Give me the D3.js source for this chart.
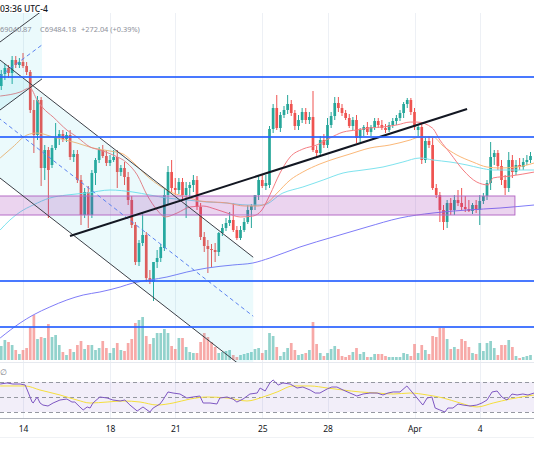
<!DOCTYPE html>
<html><head><meta charset="utf-8">
<script src="https://cdn.jsdelivr.net/npm/d3@7"></script>
<style>
html,body{margin:0;padding:0;background:#fff;overflow:hidden}
svg{display:block}
text{font-family:"Noto Sans",Roboto,sans-serif}
</style></head><body>
<svg id="chart" width="534" height="462"></svg>
<script>
// ---------- DATA (4h candles, BTCUSD) ----------
const opens=[72032,72668,72986,72721,73410,73145,73304,73092,72774,70760,
69435,71290,67686,68640,67845,68746,69329,69488,69223,69435,
68269,68428,67050,65195,66414,65195,67421,68110,68640,68322,
67951,68110,68269,67474,67686,67209,65990,64665,62704,63711,
64135,61856,61644,62704,62916,63446,66255,67474,66626,66520,
66944,66255,66626,66785,67050,65619,64029,63552,63393,63340,
63234,64241,64506,64771,64930,64400,63976,64400,64824,65460,
65672,66255,67050,66732,66785,69753,70866,69806,70495,70760,
71078,70601,69912,70230,70654,70230,70389,68640,68481,69170,
68905,69965,70442,71131,70866,70601,70336,69912,70230,69276,
69700,69859,69594,69859,70177,69965,69806,69700,69965,70177,
70336,70601,71078,71290,70654,69700,69859,68110,69117,68905,
66626,66255,65460,64824,65831,65460,65990,65831,65619,65513,
65407,65725,65460,65937,66202,66891,68269,68481,67792,67050,
66626,68110,67474,67845,67739,68004,68110];
const highs=[72880,73198,73145,73622,73622,73516,73781,73304,72880,71290,
71502,71449,68905,68799,68905,70071,69700,69700,69594,69700,
68640,68640,67315,66626,66732,67580,68216,68799,68905,68640,
68375,68640,68640,67845,68004,67474,66202,64824,63870,65301,
64294,62280,62704,63340,63658,66626,67792,68110,67156,67156,
67156,66944,66944,67315,67262,65831,64294,63870,63658,63711,
64294,64718,65036,65354,65831,64612,64612,65036,65725,65778,
66255,67315,67368,67315,69912,71078,71555,70654,70972,71555,
71290,70760,70495,70866,70866,70654,71767,68852,69382,69488,
70336,70654,71449,71449,71078,70760,70548,70389,70495,69806,
69965,70124,69965,70336,70336,70230,70018,70124,70336,70495,
70760,71184,71396,71396,70866,69965,70018,69276,69382,69276,
66838,66414,65725,65990,66096,66255,66520,66626,66202,65990,
65831,65990,66255,66361,67050,69064,68640,68640,68110,67315,
68534,68375,68110,68216,68216,68375,68534];
const lows=[71820,72350,72456,72138,72986,72986,72986,72615,70601,68481,
69170,66732,67050,65036,67686,68640,68905,69064,69064,68110,
68004,66891,64665,65036,64506,65036,66785,67951,68216,67792,
67792,68004,66626,67262,66785,65725,64506,62545,62492,63552,
61644,61538,60637,62386,62704,63287,65725,66414,66255,66308,
65990,65036,66096,66414,65460,63870,63234,62121,62439,62704,
63022,64082,64347,64612,64294,63870,63870,64294,64718,64506,
65460,65990,66626,66520,66626,69541,69700,69594,70336,70548,
70442,69700,69700,70071,70018,70018,68534,68216,68322,68746,
68746,69806,70230,70654,70442,70230,69806,69700,69011,69064,
69382,69435,69382,69700,69806,69700,69541,69594,69806,69965,
70177,70336,70866,70495,69700,69382,67898,67951,68746,66520,
66096,64824,64400,64506,65195,65195,65672,65460,65354,65354,
65248,65301,64665,65778,65990,66520,67845,67580,66785,66255,
66414,67156,67315,67580,67580,67845,67951];
const closes=[72668,72986,72721,73410,73145,73304,73092,72774,70760,69435,
71290,67686,68640,67580,68746,69329,69488,69223,69435,68269,
68428,67050,65195,66414,65195,67421,68110,68640,68322,67951,
68110,68269,67474,67686,67209,65990,64665,62704,63711,64135,
61856,61644,62704,62916,63499,66255,67474,66626,66520,66944,
66255,66626,66785,67050,65619,64029,63552,63393,63340,63234,
64241,64506,64771,64930,64400,63976,64400,64824,65460,65672,
66255,67050,66732,66891,69753,70866,69806,70495,70760,71078,
70601,69912,70230,70654,70230,70389,68640,68481,69170,68905,
69965,70442,71131,70866,70601,70336,69912,70230,69276,69700,
69859,69594,69859,70177,69965,69806,69700,69965,70177,70336,
70601,71078,71290,70654,69859,69859,68110,69117,68905,66626,
66255,65460,64824,65831,65460,65990,65831,65619,65513,65407,
65725,65460,65937,66202,66891,68269,68481,67792,67050,66626,
68110,67474,67845,67739,68004,68110,68322];
const volumes=[1400,2000,1800,1500,1000,600,1000,1200,3300,4500,
2100,2300,2200,3600,2300,2500,1500,800,500,1100,
800,1500,1900,1100,1500,1500,1000,1200,1900,1200,
700,1200,1700,1000,900,1700,2100,3700,4000,4300,
2400,1600,2200,2700,2700,3100,2700,1400,1100,2200,
2200,1300,800,700,700,1800,2700,2300,1800,1300,
700,800,900,1000,500,300,500,600,700,800,
1100,1200,700,1000,2700,2400,1300,400,800,1200,
1700,1000,500,600,700,1000,3800,1600,700,400,
700,1100,1400,1100,400,300,500,800,1200,600,
800,300,300,600,600,600,400,300,300,300,
300,700,600,400,1600,700,1500,1000,600,2400,
2300,3200,3200,2100,1100,1300,1100,2100,1900,1300,
700,600,1700,900,1700,1900,1200,500,1500,1500,
2000,1300,400,200,300,400,500];

// moving averages: [candle index, price]
const maFast=[[-0.3,71500],[5.2,71710],[7.9,71930],[9.9,71290],[11.5,70870],[14.3,70390],[18.1,69700],[20.9,69330],[24.5,68800],[27.2,68640],[30.8,68380],[34.7,67950],[37.5,67320],[40.2,66260],[43,65460],[45.2,65090],[48.5,65300],[52.1,65620],[55.7,65670],[59,65510],[62.3,65300],[65.9,65090],[69.4,65140],[71.9,65460],[74.1,66260],[76.9,67420],[79.7,68270],[83.2,68690],[87.1,68910],[90.7,69280],[94.3,69590],[98.1,69700],[101.7,69810],[105.3,69860],[109.2,69970],[112.8,70120],[114.7,70120],[118.9,69810],[121,69170],[123.8,68480],[127.4,67580],[131.2,66940],[134.3,66790],[135.7,67160],[140.4,67260],[147,67470]];
const maMid=[[-0.3,68216],[3.2,68799],[7.1,69435],[9.9,69541],[14.3,69329],[20.9,69011],[25.3,68746],[30,68587],[33.6,68428],[36.3,68004],[40.2,67262],[43.8,66732],[47.4,66361],[51.2,66149],[54.8,65937],[62.3,65831],[67.2,65672],[70.6,65672],[73.3,65831],[76.1,66361],[79.7,67050],[83.2,67474],[87.9,67898],[92.6,68216],[96.2,68428],[101.7,68746],[107.2,68905],[112.8,69170],[115.5,69329],[119.1,69329],[121.9,68852],[125.7,68375],[130.1,68004],[134,67739],[137.6,67686],[142.3,67739],[147,67951]];
const maSlow=[[-0.3,64400],[2.4,64930],[5.2,65354],[8.8,65725],[13.4,66096],[18.1,66255],[23.7,66361],[30,66520],[36.3,66414],[41,66255],[45.7,66096],[51.2,65990],[56.8,65884],[62.3,65831],[67.8,65725],[72.2,65725],[77.7,66361],[83.2,66679],[88.8,67050],[94.3,67421],[99.8,67580],[105.3,67739],[110.8,68004],[115.5,68216],[119.1,68110],[123.8,68004],[128.5,67845],[132.1,67686],[135.7,67580],[140.4,67580],[147,67580]];
const ma200=[[-0.3,58676],[5.2,59471],[8.8,59895],[13.4,60319],[18.1,60690],[22.6,60955],[27.2,61114],[32.8,61379],[36.3,61591],[41,61750],[45.7,61909],[51.2,62174],[56.8,62386],[63.9,62545],[69.4,62651],[74.1,62916],[82.4,63499],[91.5,64029],[100.9,64559],[110,65036],[119.1,65301],[128.5,65460],[137.6,65566],[147,65725]];

// RSI and its MA: [candle index, value]
const rsi=[[-0.3,67.3],[1.6,68.7],[3.2,67.3],[5.2,67.3],[6.6,66],[7.4,56.7],[8.5,43.3],[8.8,42],[9.9,50],[10.7,42],[11.5,39.3],[12.9,38],[14.3,42],[16.2,46],[18.1,47.3],[19.5,43.3],[20.3,43.3],[21.7,36.7],[22.6,32.7],[23.7,36.7],[24.5,35.3],[25.3,42],[27.2,50],[29.2,48.7],[30.8,46],[32.8,44.7],[34.1,46],[35.5,39.3],[37.5,31.3],[39.1,36.7],[41,30],[41.9,35.3],[43.8,40.7],[44.6,46],[46,56.7],[47.4,55.3],[49.3,54],[51.2,48.7],[52.9,50],[54.8,51.3],[55.7,42],[57.6,42],[59.5,40.7],[60.3,48.7],[62.3,50],[63.9,47.3],[65,43.3],[66.7,47.3],[68.6,54],[70.6,55.3],[71.4,62],[72.8,58],[74.1,68.7],[75,72.7],[76.4,66],[77.7,68.7],[79.7,67.3],[81.6,62],[83.2,63.3],[85.2,59.3],[86.6,55.3],[87.9,55.3],[89.9,60.7],[91.2,63.3],[92.6,63.3],[94.3,59.3],[96.2,55.3],[98.1,51.3],[99.8,54],[101.7,55.3],[103.7,55.3],[105.3,52.7],[106.7,55.3],[108.1,56.7],[110,56.7],[111.9,64.7],[113.3,56.7],[114.7,48.7],[116.3,39.3],[117.5,48.7],[118.8,50],[119.7,35.3],[121,32.7],[122.4,30],[123.2,35.3],[124.6,35.3],[126,40.7],[127.4,39.3],[129.3,38],[131.2,39.3],[132.6,42],[134,46],[135.4,56.7],[136.8,58],[138.1,50],[139.5,46],[140.9,54],[142.3,52.7],[143.9,54],[145.3,52.7],[147,55.3]];
const rsiMa=[[-0.3,64.7],[6.6,64.7],[10.7,59.3],[16.2,52.7],[20.9,46],[24.5,42],[29.2,43.3],[33.6,44.7],[38.3,43.3],[43,39.3],[47.4,42],[52.1,47.3],[56.8,50],[62.3,48.7],[67.8,44.7],[72.2,50],[76.1,56.7],[80.5,64.7],[85.2,64.7],[89.9,62],[94.3,59.3],[99,56.7],[103.7,55.3],[108.1,54],[112.8,55.3],[117.5,52.7],[121.9,48.7],[126.6,42],[131.2,36.7],[135.7,42],[140.4,47.3],[147,52.7]];
const rsiLevels=[70,50,30];

// drawings: [candle index, price]
const hLevels=[72509,69329,61697,59259];
const zone=[[-10,66202],[141.7,65195]];
const trendLine=[[18.97,64082],[128.5,70813]];
const descUpper=[[-10,74852],[69.5,62958]];
const descLower=[[-10,68600],[69.5,56704]];
const descMid=[[-10,71727],[69.5,59831]];
const ascUpper=[[-10,72991],[11.24,76012]];
const ascLower=[[-10,69387],[11.24,72408]];
const ascMid=[[-10,71189],[11.24,74210]];
const ascTop=[[-10,80000],[11.24,80000]];

const tickDays=[[2024,2,14],[2024,2,18],[2024,2,21],[2024,2,25],[2024,2,28],[2024,3,1],[2024,3,4]];
const headerTime="03:36 UTC-4";
const headerVals=["69040.87","C69484.18","+272.04 (+0.39%)"];

// ---------- SCALES ----------
const W=534,H=462;
const paneTop=13,paneBot=362,rsiTop=363,rsiBot=418;
const T0=Date.UTC(2024,2,13), STEP=4*3600*1000;
const t=i=>new Date(T0+i*STEP);
const N=opens.length;
const x=d3.scaleUtc().domain([t(0),t(N-1)]).range([1.25,530.5]);
const xi=i=>x(t(i));
const y=d3.scaleLinear().domain([60000,75000]).range([313.02,30]);
const vy=d3.scaleLinear().domain([0,5000]).range([360,310]);
const ry=d3.scaleLinear().domain([30,70]).range([412,382]);
const bw=2.7;
const UP="#26a69a", DN="#ef5350";

const svg=d3.select("#chart");
svg.append("rect").attr("width",W).attr("height",H).attr("fill","#fff");
const defs=svg.append("defs");
defs.append("clipPath").attr("id","pc").append("rect").attr("x",0).attr("y",paneTop).attr("width",W).attr("height",paneBot-paneTop);
defs.append("clipPath").attr("id","rc").append("rect").attr("x",0).attr("y",rsiTop).attr("width",W).attr("height",rsiBot-rsiTop);

// grid
const ticks=tickDays.map(d=>new Date(Date.UTC(d[0],d[1],d[2])));
svg.append("g").selectAll("line").data(ticks).join("line")
  .attr("x1",d=>Math.round(x(d))+0.5).attr("x2",d=>Math.round(x(d))+0.5)
  .attr("y1",paneTop).attr("y2",rsiBot).attr("stroke","#edf0f5").attr("stroke-width",1);

// pane separator
svg.append("line").attr("x1",0).attr("x2",W).attr("y1",rsiTop-0.5).attr("y2",rsiTop-0.5).attr("stroke","#e6e9ef");

const pane=svg.append("g").attr("clip-path","url(#pc)");
const pt=d=>[xi(d[0]),y(d[1])];

// volume
pane.append("g").selectAll("rect").data(d3.range(N)).join("rect")
  .attr("x",i=>xi(i)-bw/2).attr("width",bw)
  .attr("y",i=>vy(volumes[i])).attr("height",i=>vy(0)-vy(volumes[i]))
  .attr("fill",i=>closes[i]>=opens[i]?"rgba(38,166,154,0.5)":"rgba(239,83,80,0.5)");

// candles
const cg=pane.append("g");
cg.selectAll("line").data(d3.range(N)).join("line")
  .attr("x1",i=>xi(i)).attr("x2",i=>xi(i))
  .attr("y1",i=>y(highs[i])).attr("y2",i=>y(lows[i]))
  .attr("stroke",i=>closes[i]>=opens[i]?UP:DN).attr("stroke-width",1);
cg.selectAll("rect").data(d3.range(N)).join("rect")
  .attr("x",i=>xi(i)-bw/2).attr("width",bw)
  .attr("y",i=>Math.min(y(opens[i]),y(closes[i])))
  .attr("height",i=>Math.max(1,Math.abs(y(opens[i])-y(closes[i]))))
  .attr("fill",i=>closes[i]>=opens[i]?UP:DN);

// moving averages
const maLine=d3.line().x(d=>xi(d[0])).y(d=>y(d[1])).curve(d3.curveMonotoneX);
[[ma200,"#7f7cf8"],[maSlow,"#7ee3ee"],[maMid,"#fbb878"],[maFast,"#f57e83"]].forEach(([d,c])=>{
  pane.append("path").attr("d",maLine(d)).attr("fill","none").attr("stroke",c).attr("stroke-width",1);
});

// channels (fills)
const poly=(a,b)=>{const p=[pt(a[0]),pt(a[1]),pt(b[1]),pt(b[0])];return "M"+p.join("L")+"Z";};
pane.append("path").attr("d",poly(ascTop,ascLower)).attr("fill","rgba(38,198,218,0.09)");
pane.append("path").attr("d",poly(descUpper,descLower)).attr("fill","rgba(38,198,218,0.09)");

// zone box
const z0=pt(zone[0]),z1=pt(zone[1]);
pane.append("rect").attr("x",z0[0]).attr("y",z0[1]).attr("width",z1[0]-z0[0]).attr("height",z1[1]-z0[1])
  .attr("fill","rgba(156,39,176,0.2)").attr("stroke","#b56cc6").attr("stroke-width",1);

const seg=(d,c,w,dash)=>{const a=pt(d[0]),b=pt(d[1]);
  const l=pane.append("line").attr("x1",a[0]).attr("y1",a[1]).attr("x2",b[0]).attr("y2",b[1])
   .attr("stroke",c).attr("stroke-width",w);
  if(dash) l.attr("stroke-dasharray",dash);};
seg(descUpper,"#3c3f47",1); seg(descLower,"#3c3f47",1); seg(descMid,"#5b82f0",1,"4,3");
seg(ascUpper,"#3c3f47",1); seg(ascLower,"#3c3f47",1); seg(ascMid,"#5b82f0",1,"4,3");
seg(trendLine,"#131722",2);

// horizontal levels
pane.append("g").selectAll("line").data(hLevels).join("line")
  .attr("x1",0).attr("x2",W).attr("y1",d=>y(d)).attr("y2",d=>y(d))
  .attr("stroke","#2962ff").attr("stroke-opacity",0.85).attr("stroke-width",2);

// ---------- RSI pane ----------
const rp=svg.append("g").attr("clip-path","url(#rc)");
rp.append("rect").attr("x",0).attr("width",W).attr("y",ry(70)).attr("height",ry(30)-ry(70)).attr("fill","rgba(126,87,194,0.1)");
rp.append("g").selectAll("line").data(rsiLevels).join("line")
  .attr("x1",0).attr("x2",W).attr("y1",d=>Math.round(ry(d))+0.5).attr("y2",d=>Math.round(ry(d))+0.5)
  .attr("stroke","#9598a1").attr("stroke-dasharray","4,3").attr("stroke-width",1);
const rl=d3.line().x(d=>xi(d[0])).y(d=>ry(d[1]));
rp.append("path").attr("d",d3.line().x(d=>xi(d[0])).y(d=>ry(d[1])).curve(d3.curveMonotoneX)(rsiMa)).attr("fill","none").attr("stroke","#f5df3c").attr("stroke-width",1);
rp.append("path").attr("d",rl(rsi)).attr("fill","none").attr("stroke","#7e57c2").attr("stroke-width",1);
svg.append("text").attr("x",0).attr("y",375).attr("font-size",8).attr("fill","#787b86").text("∅");

// ---------- x axis ----------
svg.append("line").attr("x1",0).attr("x2",W).attr("y1",rsiBot+0.5).attr("y2",rsiBot+0.5).attr("stroke","#b2b5be");
svg.append("line").attr("x1",0).attr("x2",W).attr("y1",437.5).attr("y2",437.5).attr("stroke","#f0f2f5");
const axis=d3.axisBottom(x).tickValues(ticks).tickSize(0).tickPadding(0)
  .tickFormat(d=>d.getUTCDate()===1?d3.utcFormat("%b")(d):d3.utcFormat("%-d")(d));
const ag=svg.append("g").attr("transform",`translate(0,${rsiBot})`).call(axis);
ag.select(".domain").remove();
ag.selectAll("text").attr("dy",0).attr("y",14).attr("font-size",8.5).attr("fill","#131722")
  .attr("font-family","'Noto Sans',Roboto,sans-serif");

// ---------- header ----------
svg.append("text").attr("x",0).attr("y",12).attr("font-size",8.5).attr("font-weight",500).attr("fill","#131722").text(headerTime);
const hx=[0,40,81];
svg.append("g").selectAll("text").data(headerVals).join("text")
  .attr("x",(d,i)=>hx[i]).attr("y",32).attr("font-size",7.4).attr("fill","#8d909a").text(d=>d);
</script>
</body></html>
